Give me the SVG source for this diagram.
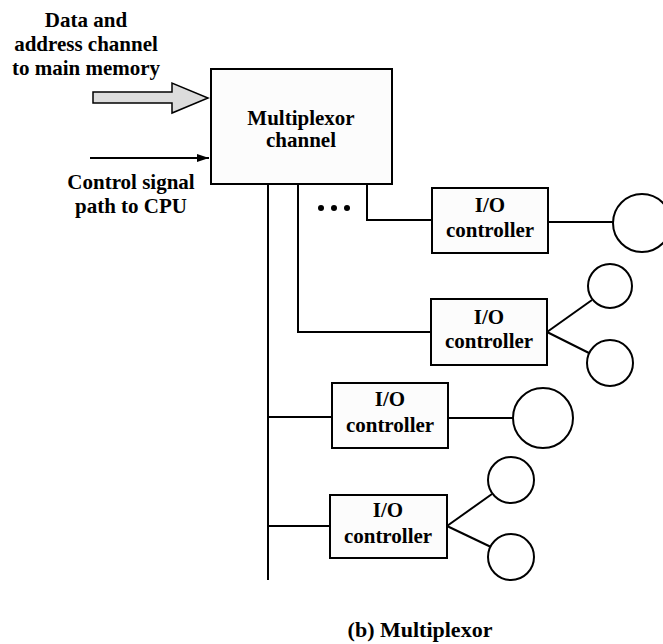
<svg xmlns="http://www.w3.org/2000/svg" width="663" height="644" viewBox="0 0 663 644">
  <style>
    text { font-family: 'Liberation Serif', 'DejaVu Serif', 'Times New Roman', serif; font-weight: bold; font-size: 21px; fill: #000; text-anchor: middle; }
    .box { fill: #fcfcfc; stroke: #000; stroke-width: 2; }
    .dev { fill: #fff; stroke: #000; stroke-width: 2; }
    .wire { fill: none; stroke: #000; stroke-width: 2; }
  </style>
  <defs>
    <marker id="head" viewBox="0 0 12 8" refX="12" refY="4" markerWidth="12" markerHeight="8" markerUnits="userSpaceOnUse" orient="auto">
      <path d="M0,0 L12,4 L0,8 Z" fill="#000"/>
    </marker>
  </defs>
  <rect width="663" height="644" fill="#fff"/>

  <!-- left side labels and inputs -->
  <g id="memory-input">
    <text x="86" y="27">Data and</text>
    <text x="86" y="51">address channel</text>
    <text x="86" y="75">to main memory</text>
    <path d="M93,92 L172,92 L172,83 L208,98 L172,113 L172,103 L93,103 Z" fill="#dcdcdc" stroke="#000" stroke-width="1.5"/>
  </g>
  <g id="cpu-control">
    <text x="131" y="189">Control signal</text>
    <text x="131" y="213">path to CPU</text>
  </g>

  <!-- connectors -->
  <g id="connectors">
    <line class="wire" x1="90" y1="158" x2="209" y2="158" marker-end="url(#head)"/>
    <!-- main bus -->
    <line class="wire" x1="268" y1="184" x2="268" y2="580"/>
    <line class="wire" x1="268" y1="417" x2="332" y2="417"/>
    <line class="wire" x1="268" y1="526" x2="330" y2="526"/>
    <!-- branch lines -->
    <path class="wire" d="M298,184 L298,332 L431,332"/>
    <path class="wire" d="M367,184 L367,220 L432,220"/>
    <!-- controller to device links -->
    <line class="wire" x1="548" y1="222" x2="613" y2="222"/>
    <line class="wire" x1="547" y1="332" x2="592" y2="300"/>
    <line class="wire" x1="547" y1="332" x2="591" y2="354"/>
    <line class="wire" x1="448" y1="418" x2="513" y2="418"/>
    <line class="wire" x1="447" y1="526" x2="492" y2="494"/>
    <line class="wire" x1="447" y1="526" x2="491" y2="547"/>
    <!-- ellipsis -->
    <circle cx="321" cy="208" r="3" fill="#000"/>
    <circle cx="334" cy="208" r="3" fill="#000"/>
    <circle cx="347" cy="208" r="3" fill="#000"/>
  </g>

  <g id="multiplexor-channel">
    <rect class="box" x="211" y="69" width="181" height="115"/>
    <text x="301" y="125">Multiplexor</text>
    <text x="301" y="147">channel</text>
  </g>

  <g id="io-controller-1">
    <rect class="box" x="432" y="188" width="116" height="65"/>
    <text x="490" y="212">I/O</text>
    <text x="490" y="237">controller</text>
  </g>
  <g id="io-controller-2">
    <rect class="box" x="431" y="299" width="116" height="66"/>
    <text x="489" y="324">I/O</text>
    <text x="489" y="348">controller</text>
  </g>
  <g id="io-controller-3">
    <rect class="box" x="332" y="383" width="116" height="65"/>
    <text x="390" y="406">I/O</text>
    <text x="390" y="432">controller</text>
  </g>
  <g id="io-controller-4">
    <rect class="box" x="330" y="495" width="117" height="63"/>
    <text x="388" y="517">I/O</text>
    <text x="388" y="543">controller</text>
  </g>

  <!-- peripheral devices -->
  <g id="device-1"><circle class="dev" cx="642" cy="223" r="29"/></g>
  <g id="device-2a"><circle class="dev" cx="610" cy="286" r="22"/></g>
  <g id="device-2b"><circle class="dev" cx="610" cy="363" r="23"/></g>
  <g id="device-3"><circle class="dev" cx="543" cy="418" r="30"/></g>
  <g id="device-4a"><circle class="dev" cx="511" cy="480" r="23"/></g>
  <g id="device-4b"><circle class="dev" cx="511" cy="557" r="23"/></g>

  <text x="420" y="637" style="font-size:22px">(b) Multiplexor</text>
</svg>
